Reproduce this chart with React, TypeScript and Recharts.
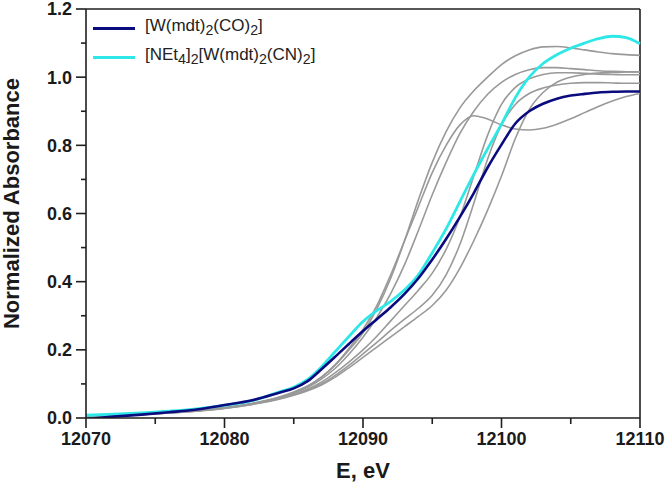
import React from 'react';
import { LineChart, Line, XAxis, YAxis, ReferenceLine } from 'recharts';

const energies = [12070, 12072, 12074, 12076, 12078, 12080, 12082, 12084, 12085, 12086, 12087, 12088, 12089, 12090, 12091, 12092, 12093, 12094, 12095, 12096, 12097, 12098, 12099, 12100, 12101, 12102, 12103, 12104, 12105, 12106, 12107, 12108, 12109, 12110];

const wCO = [-0.003, 0.004, 0.01, 0.017, 0.025, 0.038, 0.052, 0.075, 0.087, 0.108, 0.143, 0.18, 0.218, 0.255, 0.29, 0.325, 0.364, 0.41, 0.465, 0.525, 0.59, 0.66, 0.735, 0.802, 0.864, 0.9, 0.922, 0.937, 0.946, 0.951, 0.955, 0.957, 0.958, 0.958];
const wCN = [0.008, 0.011, 0.015, 0.02, 0.027, 0.037, 0.051, 0.077, 0.09, 0.113, 0.15, 0.195, 0.24, 0.283, 0.315, 0.342, 0.376, 0.42, 0.485, 0.555, 0.635, 0.715, 0.79, 0.862, 0.94, 1.0, 1.04, 1.066, 1.085, 1.1, 1.113, 1.12, 1.116, 1.098];

const gray1 = [0.005, 0.008, 0.012, 0.017, 0.023, 0.031, 0.043, 0.062, 0.076, 0.094, 0.12, 0.155, 0.2, 0.25, 0.32, 0.41, 0.52, 0.64, 0.75, 0.84, 0.91, 0.96, 1.0, 1.037, 1.063, 1.08, 1.089, 1.09, 1.086, 1.08, 1.074, 1.069, 1.066, 1.064];
const gray2 = [0.004, 0.007, 0.011, 0.016, 0.022, 0.03, 0.042, 0.061, 0.075, 0.093, 0.12, 0.157, 0.205, 0.26, 0.33, 0.42, 0.52, 0.62, 0.72, 0.8, 0.86, 0.887, 0.877, 0.86, 0.848, 0.845, 0.85, 0.862, 0.878, 0.896, 0.914, 0.93, 0.943, 0.952];
const gray3 = [0.004, 0.007, 0.011, 0.016, 0.022, 0.03, 0.042, 0.06, 0.073, 0.09, 0.114, 0.146, 0.188, 0.237, 0.295, 0.365, 0.45, 0.55, 0.655, 0.75, 0.835, 0.9, 0.95, 0.985, 1.008, 1.022, 1.028, 1.028, 1.025, 1.022, 1.019, 1.017, 1.016, 1.015];
const gray4 = [0.004, 0.007, 0.011, 0.015, 0.021, 0.029, 0.041, 0.058, 0.07, 0.085, 0.105, 0.133, 0.165, 0.2, 0.24, 0.285, 0.33, 0.375, 0.425, 0.495, 0.59, 0.71, 0.83, 0.92, 0.97, 0.995, 1.008, 1.013, 1.013, 1.011, 1.009, 1.008, 1.007, 1.007];
const gray5 = [0.004, 0.007, 0.01, 0.015, 0.021, 0.029, 0.04, 0.057, 0.068, 0.082, 0.1, 0.125, 0.155, 0.188, 0.222, 0.257, 0.29, 0.322, 0.36, 0.42, 0.51, 0.63, 0.76, 0.86, 0.92, 0.952, 0.968, 0.977, 0.982, 0.984, 0.984, 0.983, 0.982, 0.982];
const gray6 = [0.004, 0.006, 0.01, 0.015, 0.02, 0.028, 0.04, 0.056, 0.067, 0.08, 0.097, 0.12, 0.148, 0.178, 0.208, 0.238, 0.268, 0.298, 0.33, 0.375, 0.44, 0.52, 0.61, 0.71, 0.82, 0.905, 0.955, 0.985, 1.0, 1.008, 1.012, 1.014, 1.015, 1.016];

const grays = [gray1, gray2, gray3, gray4, gray5, gray6];

const xTicks = [12070, 12075, 12080, 12085, 12090, 12095, 12100, 12105, 12110];
const yTicks = [0, 0.1, 0.2, 0.3, 0.4, 0.5, 0.6, 0.7, 0.8, 0.9, 1.0, 1.1, 1.2];

const xTitle = 'E, eV';
const yTitle = 'Normalized Absorbance';

const data = energies.map((e, i) => {
  const row: Record<string, number> = { E: e, wCO: wCO[i], wCN: wCN[i] };
  grays.forEach((g, k) => {
    row['g' + k] = g[i];
  });
  return row;
});

const FONT = "Arial, 'Liberation Sans', Helvetica, sans-serif";
const AXIS = '#1f1f1f';
const TICK_SIZE = 10;
const TICK_MARGIN = 4;

const YTick = (props: any) => {
  const { x, y, payload } = props;
  const v = payload.value as number;
  const major = Math.round(v * 10) % 2 === 0;
  const ax = x + TICK_SIZE + TICK_MARGIN;
  return (
    <g>
      <line x1={ax} x2={ax - (major ? 10 : 5)} y1={y} y2={y} stroke={AXIS} strokeWidth={1.6} />
      {major && (
        <text x={x} y={y} dy="0.36em" textAnchor="end" fontFamily={FONT} fontWeight="bold" fontSize={18} fill="#1a1a1a">
          {v.toFixed(1)}
        </text>
      )}
    </g>
  );
};

const XTick = (props: any) => {
  const { x, y, payload } = props;
  const v = payload.value as number;
  const major = v % 10 === 0;
  const ay = y - TICK_SIZE - TICK_MARGIN;
  return (
    <g>
      <line x1={x} x2={x} y1={ay} y2={ay + (major ? 10 : 6)} stroke={AXIS} strokeWidth={1.6} />
      {major && (
        <text x={x} y={y} dy="13" textAnchor="middle" fontFamily={FONT} fontWeight="bold" fontSize={18} fill="#1a1a1a">
          {v}
        </text>
      )}
    </g>
  );
};

const YTitle = (props: any) => {
  const vb = props.viewBox;
  const cx = 19;
  const cy = vb.y + vb.height / 2 - 10;
  return (
    <text x={cx} y={cy} transform={`rotate(-90 ${cx} ${cy})`} textAnchor="middle" fontFamily={FONT} fontWeight="bold" fontSize={22} fill="#1a1a1a">
      {yTitle}
    </text>
  );
};

const XTitle = (props: any) => {
  const vb = props.viewBox;
  return (
    <text x={vb.x + vb.width / 2} y={478} textAnchor="middle" fontFamily={FONT} fontWeight="bold" fontSize={22} fill="#1a1a1a">
      {xTitle}
    </text>
  );
};

const legendItems = [
  { color: '#0b0b80', label: <>[W(mdt)<sub>2</sub>(CO)<sub>2</sub>]</> },
  { color: '#2ee8e8', label: <>[NEt<sub>4</sub>]<sub>2</sub>[W(mdt)<sub>2</sub>(CN)<sub>2</sub>]</> },
];

export default function App() {
  return (
    <div style={{ position: 'absolute', left: 0, top: 0, width: 666, height: 491, background: '#fff' }}>
      <LineChart width={666} height={491} data={data} margin={{ top: 9, right: 26, left: 0, bottom: 0 }}>
        <XAxis
          dataKey="E"
          type="number"
          domain={[12070, 12110]}
          ticks={xTicks}
          interval={0}
          height={73}
          tickSize={TICK_SIZE}
          tickMargin={TICK_MARGIN}
          tickLine={false}
          tick={<XTick />}
          axisLine={{ stroke: AXIS, strokeWidth: 1.6 }}
          label={<XTitle />}
        />
        <YAxis
          type="number"
          domain={[0, 1.2]}
          ticks={yTicks}
          interval={0}
          width={86}
          tickSize={TICK_SIZE}
          tickMargin={TICK_MARGIN}
          tickLine={false}
          tick={<YTick />}
          axisLine={{ stroke: AXIS, strokeWidth: 1.6 }}
          allowDataOverflow
          label={<YTitle />}
        />
        <ReferenceLine y={1.2} stroke={AXIS} strokeWidth={1.6} />
        <ReferenceLine x={12110} stroke={AXIS} strokeWidth={1.6} />
        {grays.map((_, k) => (
          <Line key={k} type="monotone" dataKey={'g' + k} stroke="#999999" strokeWidth={1.6} dot={false} isAnimationActive={false} />
        ))}
        <Line type="monotone" dataKey="wCN" stroke="#2ee8e8" strokeWidth={2.8} dot={false} isAnimationActive={false} />
        <Line type="monotone" dataKey="wCO" stroke="#0b0b80" strokeWidth={2.6} dot={false} isAnimationActive={false} />
      </LineChart>
      <div style={{ position: 'absolute', left: 93, top: 14, fontFamily: FONT, fontSize: 17, color: '#222' }}>
        {legendItems.map((it, i) => (
          <div key={i} style={{ display: 'flex', alignItems: 'center', height: 29 }}>
            <div style={{ width: 42, height: 3, background: it.color, marginRight: 10 }} />
            <div style={{ lineHeight: '17px', whiteSpace: 'nowrap' }}>{it.label}</div>
          </div>
        ))}
      </div>
    </div>
  );
}
